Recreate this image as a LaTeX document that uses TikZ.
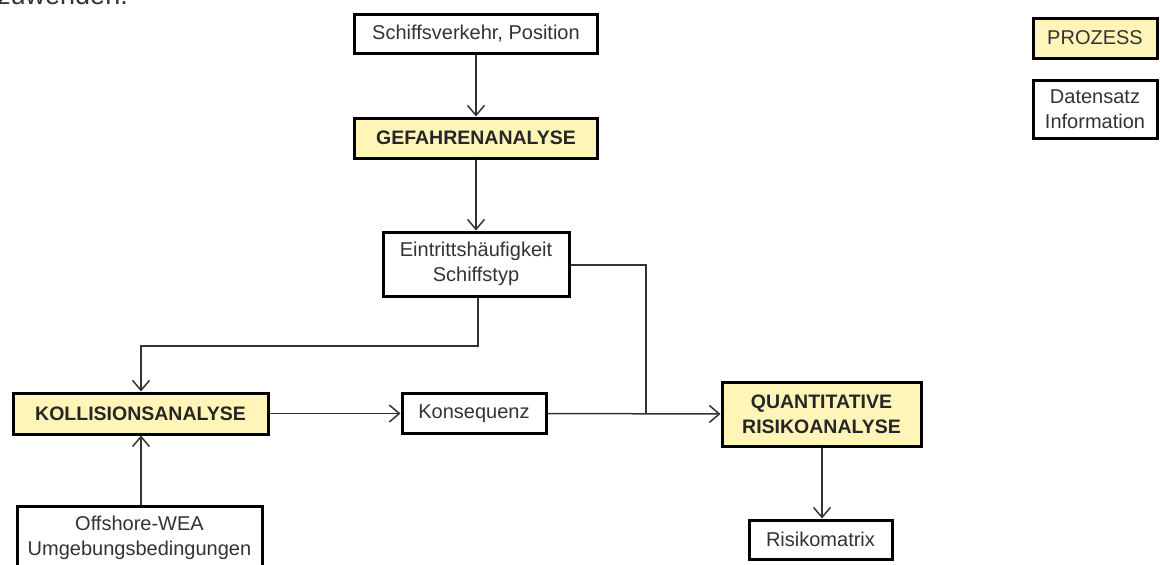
\documentclass[tikz,border=0pt]{standalone}
\usepackage{fontspec}
\setmainfont{Liberation Sans}
\usetikzlibrary{arrows.meta}
\definecolor{procfill}{HTML}{FFF5B8}
\definecolor{txtgray}{HTML}{333333}
\begin{document}
\begin{tikzpicture}[x=1pt,y=-1pt,
  base/.style={draw=black, line width=3pt, align=center, inner sep=0pt,
    font=\fontsize{20}{25}\selectfont, text=txtgray},
  databox/.style={base, fill=white},
  procbox/.style={base, fill=procfill, font=\fontsize{19.5}{25}\selectfont\bfseries, text=black!85},
  conn/.style={draw=black!80, line width=1.5pt},
  arr/.style={conn, -{Straight Barb[length=10pt,width=17pt,line width=1.5pt]}}]
\useasboundingbox (0,0) rectangle (1160,565);
\clip (0,0) rectangle (1160,565);
\node[anchor=base west, inner sep=0pt, font=\fontsize{27}{32}\selectfont, text=txtgray] (top) at (-3,4) {zuwenden.};
\node[databox, minimum width=243pt, minimum height=39pt] (schiff) at (476,34) {Schiffsverkehr, Position};
\node[procbox, minimum width=243pt, minimum height=40pt] (gefahr) at (476,138) {GEFAHRENANALYSE};
\node[databox, minimum width=186pt, minimum height=64pt] (eintritt) at (476,264) {Eintrittshäufigkeit\\Schiffstyp};
\node[procbox, minimum width=255pt, minimum height=41pt] (koll) at (140.5,413.5) {KOLLISIONSANALYSE};
\node[databox, minimum width=144pt, minimum height=40pt] (kons) at (474,413.5) {Konsequenz};
\node[databox, minimum width=245pt, minimum height=64pt] (offshore) at (139.5,538) {Offshore-WEA\\Umgebungsbedingungen};
\node[procbox, minimum width=199pt, minimum height=64pt] (quant) at (821.5,414) {QUANTITATIVE\\RISIKOANALYSE};
\node[databox, minimum width=143pt, minimum height=39pt] (risiko) at (820.5,539.5) {Risikomatrix};
\node[procbox, font=\fontsize{20}{25}\selectfont, text=txtgray, minimum width=124pt, minimum height=40pt] (prozess) at (1095,38) {PROZESS};
\node[databox, minimum width=124pt, minimum height=58pt] (daten) at (1095,109) {Datensatz\\Information};
\coordinate (j1) at (646,414);
\draw[arr] (schiff.south) -- (gefahr.north);
\draw[arr] (gefahr.south) -- (eintritt.north);
\draw[arr] (eintritt.south -| 478,0) -- (478,346) -- (141,346) -- (koll.north -| 141,0);
\draw[arr] (offshore.north -| 141,0) -- (koll.south -| 141,0);
\draw[arr] (koll.east) -- (kons.west);
\draw[arr] (kons.east) -- (quant.west);
\draw[conn] (eintritt.east |- 0,265) -- (646,265) -- (j1);
\draw[arr] (quant.south -| 822,0) -- (risiko.north -| 822,0);
\end{tikzpicture}
\end{document}
